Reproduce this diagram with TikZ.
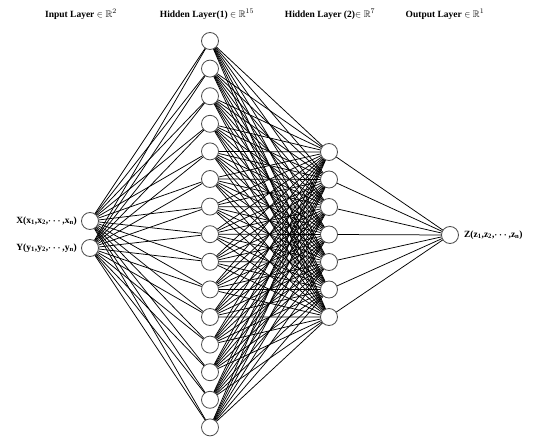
\documentclass[tikz,border=0pt]{standalone}
\usepackage{amsmath,amssymb}
\usepackage{fontspec}
\setmainfont{Liberation Serif}
\usetikzlibrary{positioning}
\tikzset{
  neuron/.style={circle, draw=black!70, fill=white, minimum size=17pt,
                 inner sep=0pt, line width=0.8pt},
  conn/.style  ={line width=0.75pt, black},
  ttl/.style   ={font=\fontsize{9.5}{11}\selectfont\bfseries, inner sep=0pt},
  vlbl/.style  ={font=\fontsize{9.5}{11}\selectfont\bfseries, inner sep=1pt},
}

\begin{document}
\begin{tikzpicture}[x=1pt,y=-1pt]
  \useasboundingbox (0,0) rectangle (536,447);
  % layers
  \node[neuron] (in1) at (90,221) {};
  \node[neuron] (in2) at (90,248) {};
  \foreach \i in {1,...,15}
    \node[neuron] (ha\i) at (210,{41+(\i-1)*27.6}) {};
  \foreach \i in {1,...,7}
    \node[neuron] (hb\i) at (329,{152+(\i-1)*27.5}) {};
  \node[neuron] (out) at (450,235) {};
  % connections
  \foreach \i in {1,2}
    \foreach \j in {1,...,15}
      \draw[conn] (in\i) -- (ha\j);
  \foreach \i in {1,...,15}
    \foreach \j in {1,...,7}
      \draw[conn] (ha\i) -- (hb\j);
  \foreach \j in {1,...,7}
    \draw[conn] (hb\j) -- (out);
  % labels
  \node[vlbl, left=3pt of in1] (xlbl) {X(x\textsubscript{1},x\textsubscript{2},$\boldsymbol{\cdots}$,x\textsubscript{n})};
  \node[vlbl, left=3pt of in2] (ylbl) {Y(y\textsubscript{1},y\textsubscript{2},$\boldsymbol{\cdots}$,y\textsubscript{n})};
  \node[vlbl, right=4pt of out] (zlbl) {Z(z\textsubscript{1},z\textsubscript{2},$\boldsymbol{\cdots}$,z\textsubscript{n})};
  \node[ttl] (tin)  at (81,14)  {Input Layer $\in\mathbb{R}^2$};
  \node[ttl] (tha)  at (207,14) {Hidden Layer(1) $\in\mathbb{R}^{15}$};
  \node[ttl] (thb)  at (330,14) {Hidden Layer (2)$\in\mathbb{R}^{7}$};
  \node[ttl] (tout) at (445,14) {Output Layer $\in\mathbb{R}^{1}$};
\end{tikzpicture}
\end{document}
